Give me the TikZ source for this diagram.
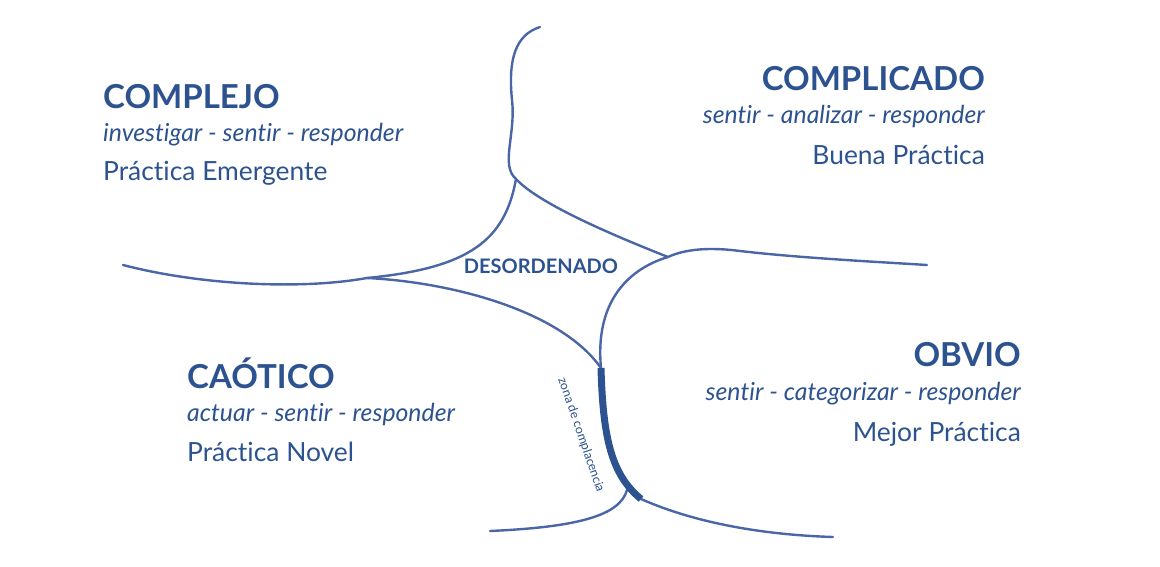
\documentclass[tikz,border=0pt]{standalone}
\usepackage{fontspec}
\setmainfont{Lato}[Ligatures=NoCommon]
\usetikzlibrary{positioning,calc}

\definecolor{cynblue}{RGB}{44,82,143}
\definecolor{cynline}{RGB}{74,102,166}

\begin{document}
\begin{tikzpicture}[x=1pt,y=-1pt]
\tikzset{
	titulo/.style={inner sep=0, text=cynblue, font=\fontsize{33}{36}\selectfont\bfseries},
	verbos/.style={inner sep=0, text=cynblue, font=\fontsize{24.8}{28}\selectfont\itshape},
	practica/.style={inner sep=0, text=cynblue, font=\fontsize{26.4}{29}\selectfont},
	frontera/.style={draw=cynline, line width=2.4pt, line cap=round},
	complacencia/.style={draw=cynblue, line width=7pt, line cap=butt}
}

\useasboundingbox (0,0) rectangle (1160,566);

% junctions
\coordinate (jtop) at (516,179);
\coordinate (jleft) at (367,278);
\coordinate (jright) at (668,257);
\coordinate (zona-a) at (601,368);
\coordinate (zona-b) at (641,499);
\coordinate (jbottom) at (627,490);

% ends of the borders
\coordinate (e-top) at (540,27);
\coordinate (e-left) at (123,265);
\coordinate (e-right) at (927,265);
\coordinate (e-down) at (833,537);
\coordinate (e-bottom) at (490,531);

% borders
\draw[frontera] (e-top) .. controls (515,35) and (508,60) .. (512,100)
	.. controls (516,135) and (500,165) .. (jtop);
\draw[frontera] (jtop) .. controls (505,240) and (470,268) .. (jleft);
\draw[frontera] (jtop) .. controls (540,205) and (620,238) .. (jright);
\draw[frontera] (e-left) .. controls (200,285) and (300,290) .. (jleft);
\draw[frontera] (jleft) .. controls (450,282) and (560,310) .. (zona-a);
\draw[frontera] (jright) .. controls (625,270) and (595,305) .. (zona-a);
\draw[frontera] (jright) .. controls (685,249) and (710,247) .. (740,251)
	.. controls (800,258) and (880,262) .. (e-right);
\draw[frontera] (zona-b) .. controls (700,525) and (770,535) .. (e-down);
\draw[frontera] (jbottom) .. controls (620,515) and (580,527) .. (e-bottom);

% zona de complacencia
\draw[complacencia] (zona-a) .. controls (603,440) and (612,475) .. (zona-b);
\node[inner sep=0, text=cynblue, font=\fontsize{12.5}{15}\selectfont, rotate=-71] (zona) at (581,435) {zona de complacencia};

% desordenado
\node[inner sep=0, text=cynblue, font=\fontsize{20}{22}\selectfont\bfseries] (desordenado) at (541,266) {DESORDENADO};

% complejo
\node[titulo, anchor=base west] (complejo) at (103,108) {COMPLEJO};
\node[verbos, anchor=base west] (complejo-v) at (103,141) {investigar - sentir - responder};
\node[practica, anchor=base west] (complejo-p) at (103,180) {Práctica Emergente};

% complicado
\node[titulo, anchor=base east] (complicado) at (985,90) {COMPLICADO};
\node[verbos, anchor=base east] (complicado-v) at (985,123) {sentir - analizar - responder};
\node[practica, anchor=base east] (complicado-p) at (985,164) {Buena Práctica};

% caotico
\node[titulo, anchor=base west] (caotico) at (187,388) {CAÓTICO};
\node[verbos, anchor=base west] (caotico-v) at (187,421) {actuar - sentir - responder};
\node[practica, anchor=base west] (caotico-p) at (187,461) {Práctica Novel};

% obvio
\node[titulo, anchor=base east] (obvio) at (1021,366) {OBVIO};
\node[verbos, anchor=base east] (obvio-v) at (1021,400) {sentir - categorizar - responder};
\node[practica, anchor=base east] (obvio-p) at (1021,441) {Mejor Práctica};

\end{tikzpicture}
\end{document}
